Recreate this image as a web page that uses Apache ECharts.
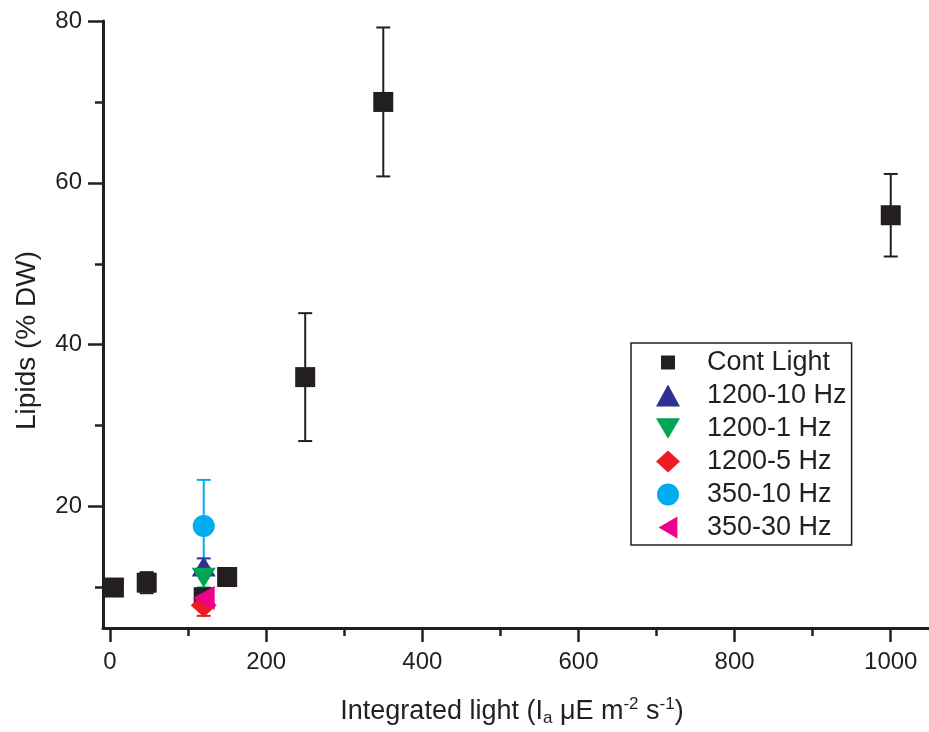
<!DOCTYPE html>
<html>
<head>
<meta charset="utf-8">
<script src="https://cdn.jsdelivr.net/npm/echarts@6/dist/echarts.min.js"></script>
<style>
  html, body { margin: 0; padding: 0; background: #fff; }
  #chart { width: 929px; height: 732px; }
</style>
</head>
<body>
<div id="chart"></div>
<script>
// data: [x, y, error]
const contLight = [[5, 10, 0.5], [47, 10.6, 1.3], [120, 8.8, 0.8], [150, 11.3, 0.6], [250, 36, 7.9], [350, 70, 9.2], [1000, 56, 5.1]];
const hz1200_10 = [[120, 12.6, 1.0]];
const hz1200_1 = [[120, 11.2, 1.2]];
const hz1200_5 = [[120, 7.8, 1.3]];
const hz350_10 = [[120, 17.6, 5.7]];
const hz350_30 = [[120, 8.7, 1.2]];

const xMajorTicks = [0, 200, 400, 600, 800, 1000];
const xMinorTicks = [100, 300, 500, 700, 900];
const yMajorTicks = [20, 40, 60, 80];
const yMinorTicks = [10, 30, 50, 70];

const ink = "#231f20";
const font = "Liberation Sans";

const groups = [
  { name: "Cont Light", data: contLight, color: ink, symbol: "rect", size: 20,
    icon: "path://M0,0M24,22M5,4h14v14h-14z" },
  { name: "1200-10 Hz", data: hz1200_10, color: "#2e3192", symbol: "triangle", size: [24, 20],
    icon: "triangle" },
  { name: "1200-1 Hz", data: hz1200_1, color: "#00a651", symbol: "path://M0,0L20,0L10,17Z", size: [24, 20],
    icon: "path://M0,0L20,0L10,17Z" },
  { name: "1200-5 Hz", data: hz1200_5, color: "#ed1c24", symbol: "diamond", size: [26, 24],
    icon: "diamond" },
  { name: "350-10 Hz", data: hz350_10, color: "#00aeef", symbol: "circle", size: 22,
    icon: "circle" },
  { name: "350-30 Hz", data: hz350_30, color: "#ec008c", symbol: "path://M17,0L17,20L0,10Z", size: [22, 24],
    icon: "path://M17,0L17,20L0,10Z" },
];

function errorBar(color) {
  return function (params, api) {
    const x = api.value(0);
    const y = api.value(1);
    const e = api.value(2);
    const top = api.coord([x, y + e]);
    const bot = api.coord([x, y - e]);
    const style = { stroke: color, lineWidth: 2 };
    return {
      type: "group",
      children: [
        { type: "line", shape: { x1: top[0], y1: top[1], x2: bot[0], y2: bot[1] }, style },
        { type: "line", shape: { x1: top[0] - 7, y1: top[1], x2: top[0] + 7, y2: top[1] }, style },
        { type: "line", shape: { x1: bot[0] - 7, y1: bot[1], x2: bot[0] + 7, y2: bot[1] }, style },
      ],
    };
  };
}

const series = [];
groups.forEach((g) => {
  series.push({
    type: "custom",
    name: g.name + " err",
    renderItem: errorBar(g.color),
    data: g.data,
    encode: { x: 0, y: 1 },
    silent: true,
  });
  series.push({
    type: "scatter",
    name: g.name,
    data: g.data.map((d) => [d[0], d[1]]),
    symbol: g.symbol,
    symbolSize: g.size,
    itemStyle: { color: g.color, opacity: 1 },
  });
});

const chart = echarts.init(document.getElementById("chart"));
chart.setOption({
  animation: false,
  backgroundColor: "#fff",
  grid: { left: 103, right: 0, top: 21, bottom: 104 },
  legend: {
    orient: "vertical",
    left: 631,
    top: 343,
    borderColor: ink,
    borderWidth: 1.5,
    padding: [6, 5, 4, 25],
    itemGap: 6,
    itemWidth: 24,
    itemHeight: 22,
    textStyle: { fontSize: 27, color: ink, fontFamily: font, padding: [0, 0, 0, 22] },
    data: groups.map((g) => ({ name: g.name, icon: g.icon })),
  },
  xAxis: [
    {
      type: "value",
      min: -9,
      max: 1049,
      name: "Integrated light (I{sub|a} μE m{sup|-2} s{sup|-1})",
      nameLocation: "middle",
      nameGap: 68,
      nameTextStyle: {
        fontSize: 27,
        color: ink,
        fontFamily: font,
        padding: [0, 8, 0, 0],
        rich: {
          sub: { fontSize: 17, color: ink, fontFamily: font, verticalAlign: "bottom", padding: [14, 0, 0, 0] },
          sup: { fontSize: 17, color: ink, fontFamily: font, verticalAlign: "top", padding: [0, 0, 10, 0] },
        },
      },
      axisLine: { onZero: false, lineStyle: { color: ink, width: 3 } },
      axisTick: { customValues: xMajorTicks, length: 14, lineStyle: { color: ink, width: 2.5 } },
      axisLabel: {
        customValues: xMajorTicks, margin: 22, fontSize: 24, color: ink, fontFamily: font,
        formatter: (v) => String(v),
      },
      splitLine: { show: false },
    },
    {
      type: "value",
      min: -9,
      max: 1049,
      position: "bottom",
      axisLine: { show: false, onZero: false },
      axisTick: { customValues: xMinorTicks, length: 8, lineStyle: { color: ink, width: 2.5 } },
      axisLabel: { show: false },
      splitLine: { show: false },
    },
  ],
  yAxis: [
    {
      type: "value",
      min: 5,
      max: 80,
      name: "Lipids (% DW)",
      nameLocation: "middle",
      nameGap: 62,
      nameTextStyle: { fontSize: 28, color: ink, fontFamily: font, padding: [0, 32, 0, 0] },
      axisLine: { onZero: false, lineStyle: { color: ink, width: 3 } },
      axisTick: { customValues: yMajorTicks, length: 15, lineStyle: { color: ink, width: 2.5 } },
      axisLabel: {
        customValues: yMajorTicks, margin: 21, fontSize: 24, color: ink, fontFamily: font,
        formatter: (v) => String(v),
      },
      splitLine: { show: false },
    },
    {
      type: "value",
      min: 5,
      max: 80,
      position: "left",
      axisLine: { show: false, onZero: false },
      axisTick: { customValues: yMinorTicks, length: 8, lineStyle: { color: ink, width: 2.5 } },
      axisLabel: { show: false },
      splitLine: { show: false },
    },
  ],
  series,
});
</script>
</body>
</html>
